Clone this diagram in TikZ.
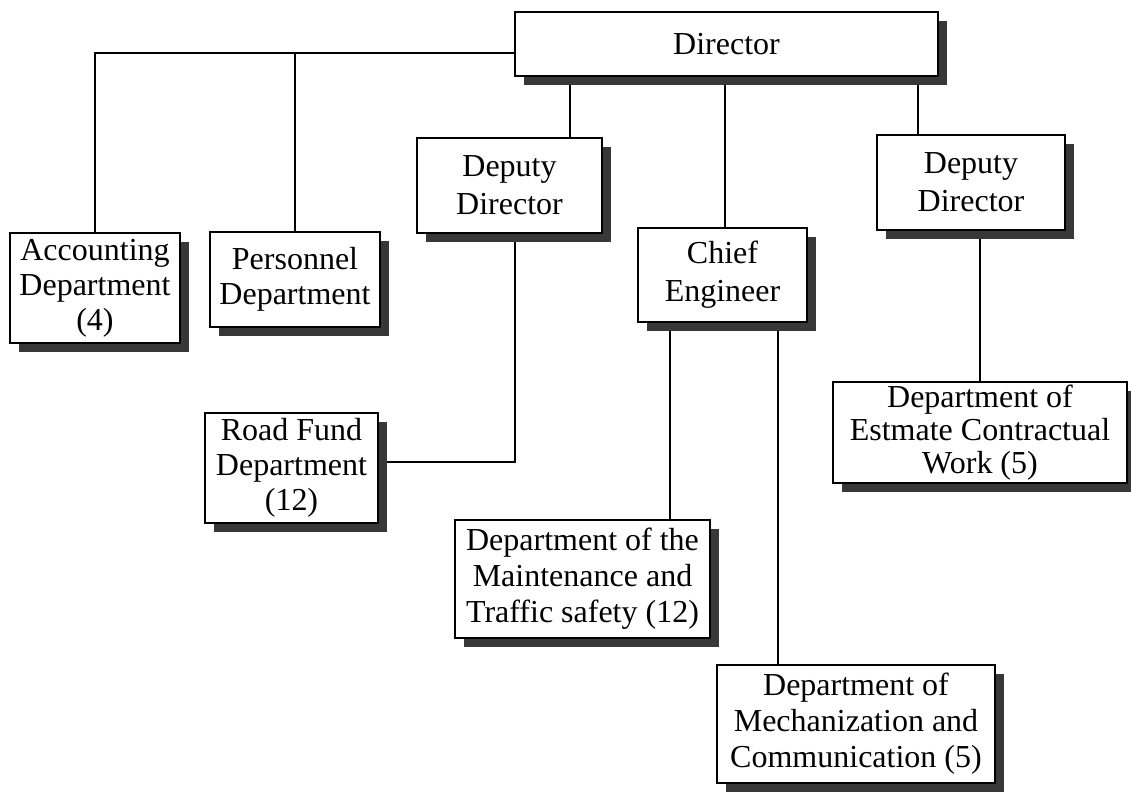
\documentclass[tikz,border=0pt]{standalone}
\usepackage{fontspec}
\setmainfont{Liberation Serif}
\usetikzlibrary{shadows,backgrounds,calc}
\begin{document}
\begin{tikzpicture}[x=0.5pt,y=-0.5pt,
  orgbox/.style={draw=black, line width=1.1pt, fill=white, inner sep=0pt, align=center,
    font=\fontsize{16}{17.5}\selectfont,
    drop shadow={shadow xshift=4.5pt, shadow yshift=-4.5pt, fill=black!78, opacity=1}},
  conn/.style={draw=black, line width=1.4pt}]
\useasboundingbox (0,0) rectangle (1131,793);

\node[orgbox, minimum width=211.5pt, minimum height=32pt] (dir) at (726.5,44) {Director};
\node[orgbox, minimum width=85pt, minimum height=55pt] (acc) at (95,288) {Accounting\\Department\\(4)};
\node[orgbox, minimum width=85pt, minimum height=47.5pt] (per) at (295,279.5) {Personnel\\Department};
\node[orgbox, minimum width=92.5pt, minimum height=47.5pt, font=\fontsize{16}{19}\selectfont] (dep1) at (509.5,185.5) {Deputy\\Director};
\node[orgbox, minimum width=84.5pt, minimum height=47pt, font=\fontsize{16}{19}\selectfont] (chief) at (722.5,275) {Chief\\Engineer};
\node[orgbox, minimum width=94pt, minimum height=47.5pt, font=\fontsize{16}{19}\selectfont] (dep2) at (971,182.5) {Deputy\\Director};
\node[orgbox, minimum width=86.5pt, minimum height=55pt] (road) at (291.5,468) {Road Fund\\Department\\(12)};
\node[orgbox, minimum width=127.5pt, minimum height=59pt, font=\fontsize{16}{18}\selectfont] (maint) at (582.5,579) {Department of the\\Maintenance and\\Traffic safety (12)};
\node[orgbox, minimum width=139pt, minimum height=59pt, font=\fontsize{16}{18}\selectfont] (mech) at (856,724) {Department of\\Mechanization and\\Communication (5)};
\node[orgbox, minimum width=147pt, minimum height=50.5pt, font=\fontsize{16}{16.5}\selectfont] (est) at (980,432.5) {Department of\\Estmate Contractual\\Work (5)};

\begin{scope}[on background layer]
\fill[white] (0,0) rectangle (1131,793);
\coordinate (hl) at ([yshift=-4.5pt]dir.west);
\draw[conn] (hl) -| (acc.north);
\draw[conn] (per.north) -- (per.north |- hl);
\draw[conn] ([xshift=30.25pt]dep1.north) -- ([xshift=30.25pt]dep1.north |- dir.south);
\draw[conn] ([xshift=1.25pt]chief.north) -- ([xshift=1.25pt]chief.north |- dir.south);
\draw[conn] ([xshift=-26.5pt]dep2.north) -- ([xshift=-26.5pt]dep2.north |- dir.south);
\draw[conn] ([xshift=2.75pt]dep1.south) |- ([yshift=3pt]road.east);
\draw[conn] ([xshift=-26.25pt]chief.south) -- ([xshift=-26.25pt]chief.south |- maint.north);
\draw[conn] ([xshift=27.75pt]chief.south) -- ([xshift=27.75pt]chief.south |- mech.north);
\draw[conn] ([xshift=4.5pt]dep2.south) -- ([xshift=4.5pt]dep2.south |- est.north);
\end{scope}
\end{tikzpicture}
\end{document}
